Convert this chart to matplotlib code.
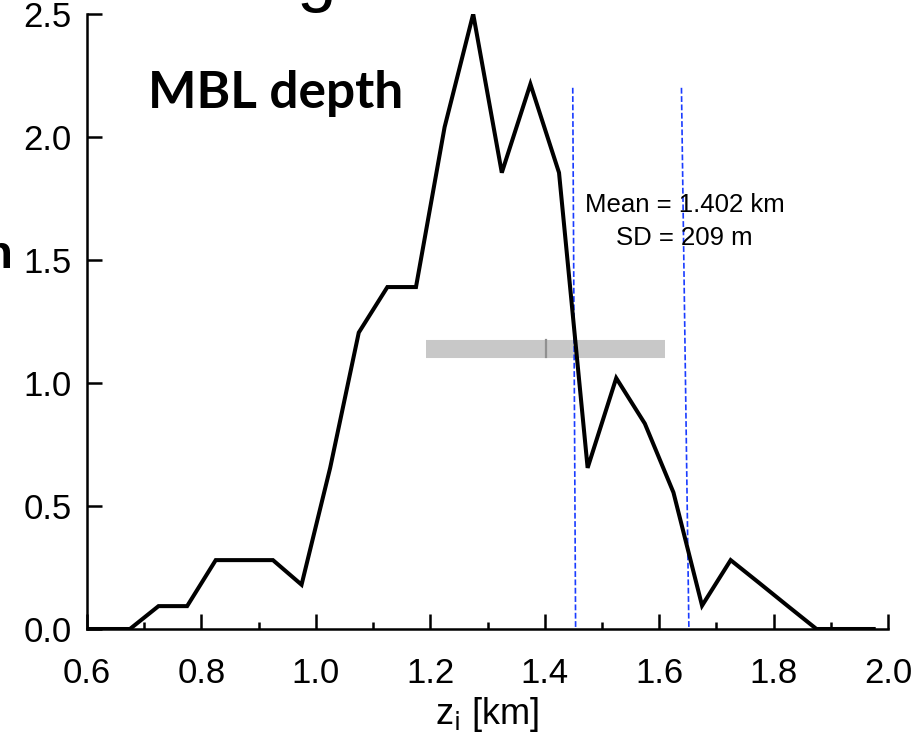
import matplotlib
matplotlib.use("Agg")
import matplotlib.pyplot as plt
from matplotlib.ticker import MultipleLocator

plt.rcParams['font.family'] = ['Liberation Sans', 'DejaVu Sans']

# Data: PDF of MBL depth (bin centres in km, density)
zi_km = [0.575, 0.625, 0.675, 0.725, 0.775, 0.825, 0.875, 0.925, 0.975, 1.025,
         1.075, 1.125, 1.175, 1.225, 1.275, 1.325, 1.375, 1.425, 1.475, 1.525,
         1.575, 1.625, 1.675, 1.725, 1.775, 1.825, 1.875, 1.925, 1.975]
pdf = [0.0, 0.0, 0.0, 0.093, 0.093, 0.28, 0.28, 0.28, 0.18, 0.655,
       1.205, 1.39, 1.39, 2.04, 2.50, 1.855, 2.215, 1.855, 0.655, 1.02,
       0.835, 0.555, 0.095, 0.28, 0.187, 0.093, 0.0, 0.0, 0.0]

mean_km = 1.402
sd_km = 0.209
bar_level = 1.14

# blue dashed reference lines (top x, bottom x), spanning 0 .. 2.2
dash_top_x = [1.449, 1.639]
dash_bot_x = [1.454, 1.652]
dash_span = [2.2, 0.0]

xticks = [0.6, 0.8, 1.0, 1.2, 1.4, 1.6, 1.8, 2.0]
yticks = [0.0, 0.5, 1.0, 1.5, 2.0, 2.5]

fig = plt.figure(figsize=(9.13, 7.35), dpi=100)
ax = fig.add_axes([87/913, 1-629/735, (888-87)/913, (629-14)/735])

# grey mean +/- SD bar
ax.plot([mean_km - sd_km, mean_km + sd_km], [bar_level, bar_level],
        color='#c8c8c8', lw=13, solid_capstyle='butt', zorder=1)
ax.plot([mean_km, mean_km], [bar_level - 0.035, bar_level + 0.035],
        color='#909090', lw=1.6, zorder=2)

# dashed blue lines
for xt, xb in zip(dash_top_x, dash_bot_x):
    ax.plot([xt, xb], dash_span, color='#1a3cff', lw=1.2, ls=(0, (3.5, 1.5)), zorder=2)

ax.plot(zi_km, pdf, color='black', lw=2.9, zorder=3, solid_joinstyle='miter')

ax.set_xlim(0.6, 2.0)
ax.set_ylim(0.0, 2.5)
ax.set_xticks(xticks)
ax.set_yticks(yticks)
ax.set_xticklabels([f"{v:.1f}" for v in xticks])
ax.set_yticklabels([f"{v:.1f}" for v in yticks])
ax.xaxis.set_minor_locator(MultipleLocator(0.1))

for s in ['top', 'right']:
    ax.spines[s].set_visible(False)
for s in ['left', 'bottom']:
    ax.spines[s].set_linewidth(1.8)

ax.tick_params(axis='both', which='major', direction='in', length=11, width=1.8,
               labelsize=25)
ax.tick_params(axis='x', which='major', pad=20)
ax.tick_params(axis='y', which='major', pad=11)
ax.tick_params(axis='x', which='minor', direction='in', length=5, width=1.8)

ax.set_xlabel(r'z$_{\mathrm{i}}$ [km]', fontsize=26, labelpad=4)

ax.text(1.6445, 1.657, "Mean = 1.402 km\nSD = 209 m", fontsize=18.5,
        ha='center', va='center', linespacing=1.5, zorder=4)

ax.text(0.7066, 2.118, "MBL depth", fontsize=37, fontweight='bold',
        family=['Lato', 'DejaVu Sans'], ha='left', va='baseline')

# partial text from outside the cropped region
fig.text(-0.0175, 1-268/735, "n", fontsize=34, fontweight='bold', ha='left', va='baseline')
fig.text(317/913, 1-(-2)/735, "g", fontsize=51, ha='center', va='baseline')

fig.savefig("out.png", dpi=100)
